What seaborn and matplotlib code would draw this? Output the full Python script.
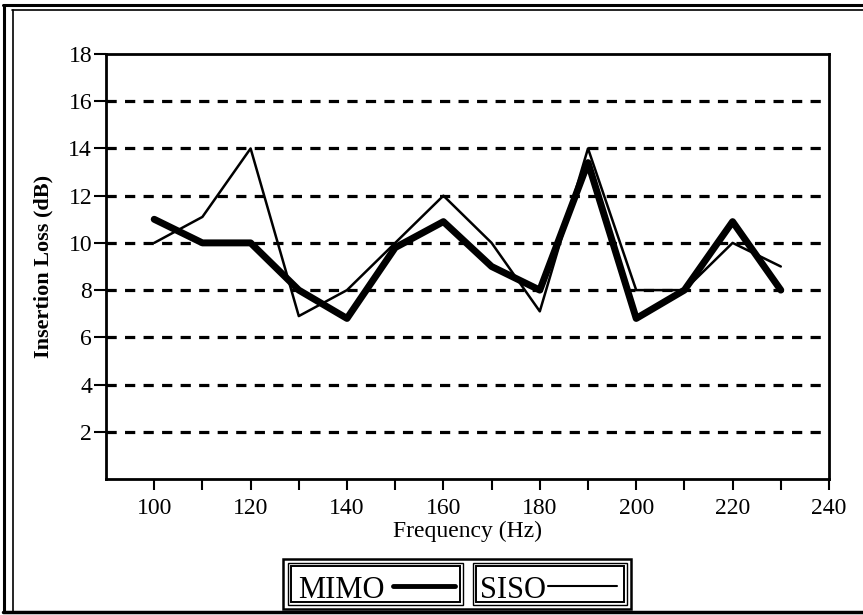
import matplotlib
matplotlib.use("Agg")
import matplotlib.pyplot as plt
from matplotlib.patches import Rectangle
from matplotlib.lines import Line2D
import seaborn as sns
import pandas as pd

freq = [100, 110, 120, 130, 140, 150, 160, 170, 180, 190, 200, 210, 220, 230]
mimo = [11.0, 10.0, 10.0, 8.0, 6.8, 9.8, 10.9, 9.0, 8.0, 13.4, 6.8, 8.0, 10.9, 8.0]
siso = [10.0, 11.1, 14.0, 6.9, 8.0, 10.0, 12.0, 10.0, 7.1, 14.0, 8.0, 8.0, 10.0, 9.0]
series_names = ["MIMO", "SISO"]
xticks = [100, 120, 140, 160, 180, 200, 220, 240]
yticks = [2, 4, 6, 8, 10, 12, 14, 16, 18]
grid_levels = [2, 4, 6, 8, 10, 12, 14, 16]

sns.set_theme(style="white")
plt.rcParams['font.family'] = ['Liberation Serif', 'DejaVu Serif']
plt.rcParams['text.color'] = 'black'

df = pd.DataFrame({"Frequency": freq * 2,
                   "Loss": mimo + siso,
                   "Series": [series_names[0]] * len(freq) + [series_names[1]] * len(freq)})

W, H = 863, 615
fig = plt.figure(figsize=(8.63, 6.15), dpi=100)
ax = fig.add_axes([106 / W, 1 - 479 / H, (829 - 106) / W, (479 - 54) / H])

for y in grid_levels:
    ax.axhline(y, color="black", lw=2.3, ls=(0, (3.2, 2.6)), zorder=1)

sns.lineplot(data=df[df.Series == "MIMO"], x="Frequency", y="Loss", ax=ax,
             color="black", lw=5.0, zorder=3, legend=False)
sns.lineplot(data=df[df.Series == "SISO"], x="Frequency", y="Loss", ax=ax,
             color="black", lw=1.8, zorder=4, legend=False)

ax.set_xlim(90, 240)
ax.set_ylim(0, 18)
ax.set_xticks(xticks)
ax.set_xticks([110, 130, 150, 170, 190, 210, 230], minor=True)
ax.set_yticks(yticks)
ax.tick_params(axis="x", which="both", direction="out", length=8, width=1.5,
               color="black", bottom=True, labelsize=17, pad=6)
ax.tick_params(axis="y", direction="out", length=9, width=1.5, color="black",
               left=True, labelsize=17, pad=1)
for lbl in ax.get_xticklabels() + ax.get_yticklabels():
    lbl.set_color("black")
for s in ax.spines.values():
    s.set_color("black")
    s.set_linewidth(2.0)

ax.set_xlabel("Frequency (Hz)", fontsize=17, color="black", labelpad=1)
ax.set_ylabel("Insertion Loss (dB)", fontsize=16, fontweight="bold", color="black", labelpad=11)


def fx(px):
    return px / W


def fy(py):
    return 1 - py / H


def fbox(x0, y0, x1, y1, lw):
    fig.add_artist(Rectangle((fx(x0), fy(y1)), (x1 - x0) / W, (y1 - y0) / H,
                             transform=fig.transFigure, fill=False, ec="black", lw=lw))


def fline(x0, y0, x1, y1, lw):
    fig.add_artist(Line2D([fx(x0), fx(x1)], [fy(y0), fy(y1)],
                          transform=fig.transFigure, color="black", lw=lw))


# legend: each entry is the series name followed by its line sample, in its own double box
fig.text(fx(298), fy(598), series_names[0], fontsize=22, color="black", ha="left", va="baseline")
fline(393, 586, 455, 586, 3.5)
fig.text(fx(480), fy(598), series_names[1], fontsize=22, color="black", ha="left", va="baseline")
fline(548, 586, 617, 586, 1.5)

fbox(283, 559, 631, 609, 1.8)
fbox(288, 563, 463, 605, 1.0)
fbox(291, 566, 460, 602, 1.4)
fbox(473, 563, 627, 605, 1.0)
fbox(476, 566, 624, 602, 1.4)

# outer figure frame (partially cropped)
fline(3, 5, W, 5, 2.2)
fline(12, 10, W, 10, 1.2)
fline(4, 5, 4, 612, 2.2)
fline(13, 10, 13, 612, 1.2)
fline(3, 612, W, 612, 2.5)

fig.savefig("out.png", dpi=100)
